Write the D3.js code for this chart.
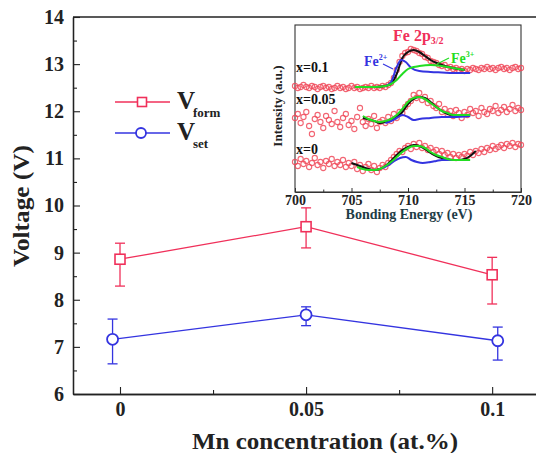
<!DOCTYPE html>
<html>
<head>
<meta charset="utf-8">
<script src="https://cdn.jsdelivr.net/npm/d3@7"></script>
<style>
  body { margin: 0; background: #fff; }
  svg { display: block; }
</style>
</head>
<body>
<script>
// main chart data
const mnConc = [0, 0.05, 0.1];
const vformX = [0, 0.05, 0.1];
const vform = [8.86, 9.55, 8.53];
const vformLo = [8.29, 9.1, 7.91];
const vformHi = [9.2, 9.95, 8.9];
const vsetX = [-0.002, 0.05, 0.1015];
const vset = [7.16, 7.68, 7.13];
const vsetLo = [6.64, 7.45, 6.72];
const vsetHi = [7.59, 7.85, 7.42];
const yTicks = [6, 7, 8, 9, 10, 11, 12, 13, 14];
const xTickLabels = ["0", "0.05", "0.1"];

// inset XPS data (a.u.), energies 700..720 step 0.25
const energies = d3.range(0, 81).map(i => 700 + i * 0.25);
const specTop = [106,104,105,107,105,104,106,105,103,105,106,104,105,103,104,106,104,105,103,104,
  106,104,105,103,104,105,104,106,104,105,104,106,105,107,109,114,122,130,136,139,
  140,143,142,141,139,138,135,134,131,130,129,127,126,127,124,125,123,124,122,123,
  121,123,122,124,123,122,124,123,125,123,124,122,124,125,123,124,122,124,125,123,124];
const specMid = [74,78,69,75,80,66,58,73,77,70,64,76,72,68,81,70,65,74,78,67,
  71,63,75,84,70,66,73,68,76,64,70,72,69,75,71,78,74,80,79,85,
  88,91,97,94,99,92,95,89,91,86,84,88,80,83,78,81,76,82,79,74,
  80,77,83,79,81,76,84,80,78,83,81,86,79,82,85,80,83,87,81,84,82];
const specBot = [30,26,33,28,31,25,29,34,27,30,24,31,28,33,26,30,27,32,25,29,
  26,30,23,27,21,25,28,22,26,20,24,27,25,29,32,35,38,41,40,44,
  46,43,48,45,49,44,46,42,44,40,42,38,41,37,39,35,38,34,37,35,
  38,36,40,37,41,39,43,40,44,42,46,43,45,47,44,48,46,49,45,48,47];

// fitted components
const topSumE = [705.3,706,707,708,708.5,709,709.5,710,710.5,711,711.5,712,713,714,715];
const topSum = [105,105,105,106,108,118,134,140,142,140,136,132,127,124,122];
const topFe2E = [708,708.5,709,709.4,709.8,710.3,711,712,713,714,715.5];
const topFe2 = [106,110,125,132,130,124,121,120,119.5,119,119];
const topFe3E = [705.3,706,707,708,708.5,709,709.5,710,710.5,711,712,713,714,715];
const topFe3 = [105,105,105,106,108,112,118,123,125,126,127,126,124,122];

const midSumE = [706,707,707.5,708,708.5,709,709.5,710,710.5,711,711.5,712,712.5,713,713.5,714,715,715.5];
const midSum = [74,71,69,70,72,75,80,88,93,95,94,90,85,81,78,77,77,77];
const midFe2E = [708,708.5,709,709.5,710,710.5,711,712,713,714,715.5];
const midFe2 = [69,71,74,77,75,72,73,74,75,75,76];
const midFe3E = [706,706.5,707,707.5,708,708.5,709,709.5,710,710.5,711,711.5,712,712.5,713,713.5,714,715,715.5];
const midFe3 = [76,73,71,70,71,73,77,83,90,94,95,93,89,85,81,79,77,77,77];

const botSumE = [705,705.5,706,706.5,707,707.5,708,708.5,709,709.5,710,710.5,711,711.5,712,712.5,713,713.5,714,714.5,715,715.5,716];
const botSum = [29,27,25,23,22,23,26,31,37,42,45,47,46,43,39,36,34,33,32,32,33,36,41];
const botFe2E = [707.8,708.3,708.8,709.3,709.8,710.3,710.8,711.3,712,712.5,713,713.5,714];
const botFe2 = [24,27,31,34,35,32,30,29,30,31,32,32,32];
const botFe3E = [705.5,706,706.5,707,707.5,708,708.5,709,709.5,710,710.5,711,711.5,712,712.5,713,713.5,714,714.5,715,715.5];
const botFe3 = [25,23,22,22,23,26,30,35,40,44,46,46,44,40,37,35,33,32,32,32,32];

const red = "#f0305a", blue = "#3434e0", green = "#22dd22";

const W = 536, H = 453;
const svg = d3.select("body").append("svg").attr("width", W).attr("height", H);

const mLeft = 73, mRight = 545, mTop = 17, mBottom = 394;
const x = d3.scaleLinear().domain([-0.01263, 0.1142]).range([mLeft, mRight]);
const y = d3.scaleLinear().domain([6, 14]).range([mBottom, mTop]);

// frame lines
svg.append("line").attr("x1", mLeft).attr("x2", mRight).attr("y1", mTop).attr("y2", mTop)
  .attr("stroke", "#222").attr("stroke-width", 1.3);

// y axis
svg.append("g").attr("transform", `translate(${mLeft},0)`)
  .call(d3.axisLeft(y).tickValues(yTicks).tickSizeInner(-7).tickSizeOuter(0).tickPadding(9).tickFormat(d3.format("d")));
svg.append("g").attr("transform", `translate(${mLeft},0)`)
  .call(d3.axisLeft(y).tickValues(d3.range(6.5, 14, 1)).tickSizeInner(-4).tickSizeOuter(0).tickFormat(""));

// x axis
svg.append("g").attr("transform", `translate(0,${mBottom})`)
  .call(d3.axisBottom(x).tickValues(mnConc).tickSizeInner(-7).tickSizeOuter(0).tickPadding(8)
    .tickFormat((d, i) => xTickLabels[i]));
svg.append("g").attr("transform", `translate(0,${mBottom})`)
  .call(d3.axisBottom(x).tickValues([0.025, 0.075]).tickSizeInner(-4).tickSizeOuter(0).tickFormat(""));

svg.selectAll(".domain").attr("stroke", "#222").attr("stroke-width", 1.3);
svg.selectAll(".tick line").attr("stroke", "#222").attr("stroke-width", 1.1);
svg.selectAll(".tick text").style("font-size", "20px").attr("fill", "#222");

// axis titles
svg.append("text").attr("transform", `translate(29,206) rotate(-90)`).attr("text-anchor", "middle")
  .style("font-size", "24px").attr("textLength", 122).attr("lengthAdjust", "spacingAndGlyphs")
  .attr("fill", "#222").text("Voltage (V)");
svg.append("text").attr("x", 325).attr("y", 449).attr("text-anchor", "middle")
  .style("font-size", "23px").attr("textLength", 266).attr("lengthAdjust", "spacingAndGlyphs")
  .attr("fill", "#222").text("Mn concentration (at.%)");

// legend
const leg = [
  { color: red, shape: "square", main: "V", sub: "form", y: 102 },
  { color: blue, shape: "circle", main: "V", sub: "set", y: 133 }
];
leg.forEach(l => {
  svg.append("line").attr("x1", 115).attr("x2", 170).attr("y1", l.y).attr("y2", l.y)
    .attr("stroke", l.color).attr("stroke-width", 1.3);
  if (l.shape === "square") {
    svg.append("rect").attr("x", 137.5).attr("y", l.y - 4.5).attr("width", 9).attr("height", 9)
      .attr("fill", "#fff").attr("stroke", l.color).attr("stroke-width", 1.6);
  } else {
    svg.append("circle").attr("cx", 141).attr("cy", l.y).attr("r", 5)
      .attr("fill", "#fff").attr("stroke", l.color).attr("stroke-width", 1.8);
  }
  svg.append("text").attr("x", 177).attr("y", l.y + 7).style("font-size", "25px").attr("fill", "#222").text(l.main);
  svg.append("text").attr("x", 193).attr("y", l.y + 15).style("font-size", "13px").attr("fill", "#222").text(l.sub);
});

// inset
const ix = d3.scaleLinear().domain([700, 720]).range([295, 521]);
const iy = d3.scaleLinear().domain([0, 167]).range([192, 25]);
const inset = svg.append("g");
inset.append("rect").attr("x", 268).attr("y", 22).attr("width", 262).attr("height", 205).attr("fill", "#fff");
inset.append("rect").attr("x", 295).attr("y", 25).attr("width", 226).attr("height", 167)
  .attr("fill", "none").attr("stroke", "#333").attr("stroke-width", 1.1);

const ixAxis = inset.append("g").attr("transform", "translate(0,192)")
  .call(d3.axisBottom(ix).tickValues([700, 705, 710, 715, 720]).tickSizeInner(-4).tickSizeOuter(0).tickPadding(3));
inset.append("g").attr("transform", "translate(0,192)")
  .call(d3.axisBottom(ix).tickValues([702.5, 707.5, 712.5, 717.5]).tickSizeInner(-2.5).tickSizeOuter(0).tickFormat(""));
inset.selectAll(".domain").attr("stroke", "#333").attr("stroke-width", 1.1);
inset.selectAll(".tick line").attr("stroke", "#333");
ixAxis.selectAll(".tick text").style("font-size", "14px").attr("fill", "#222");

inset.append("text").attr("x", 409).attr("y", 219).attr("text-anchor", "middle")
  .style("font-size", "14px").attr("fill", "#1e3c46").text("Bonding Energy (eV)");
inset.append("text").attr("transform", "translate(282,106) rotate(-90)").attr("text-anchor", "middle")
  .style("font-size", "13px").attr("fill", "#222").text("Intensity (a.u.)");

// scattered data
[specTop, specMid, specBot].forEach(spec => {
  inset.append("g").selectAll("circle").data(spec).join("circle")
    .attr("cx", (d, i) => ix(energies[i])).attr("cy", d => iy(d)).attr("r", 2.6)
    .attr("fill", "none").attr("stroke", "#f04a5a").attr("stroke-width", 1.1).attr("opacity", 0.85);
});

// fits
const fitLine = d3.line().curve(d3.curveMonotoneX).x(d => ix(d[0])).y(d => iy(d[1]));
function drawFit(es, vs, color) {
  inset.append("path").datum(vs.map((v, i) => [es[i], v]))
    .attr("fill", "none").attr("stroke", color).attr("stroke-width", 2).attr("d", fitLine);
}
drawFit(topSumE, topSum, "#111");
drawFit(topFe2E, topFe2, blue);
drawFit(topFe3E, topFe3, green);
drawFit(midSumE, midSum, "#111");
drawFit(midFe2E, midFe2, blue);
drawFit(midFe3E, midFe3, green);
drawFit(botSumE, botSum, "#111");
drawFit(botFe2E, botFe2, blue);
drawFit(botFe3E, botFe3, green);

// inset labels
[["x=0.1", 72], ["x=0.05", 104], ["x=0", 154]].forEach(([t, ty]) =>
  inset.append("text").attr("x", 296).attr("y", ty).style("font-size", "14px").attr("fill", "#111").text(t));

const fe = inset.append("text").attr("x", 393).attr("y", 41).style("font-size", "16px").attr("fill", red);
fe.append("tspan").text("Fe 2p");
fe.append("tspan").style("font-size", "10px").attr("dy", 3).text("3/2");

const fe2 = inset.append("text").attr("x", 364).attr("y", 66).style("font-size", "14px").attr("fill", blue);
fe2.append("tspan").text("Fe");
fe2.append("tspan").style("font-size", "8px").attr("dy", -6).text("2+");
inset.append("line").attr("x1", 383).attr("y1", 64).attr("x2", 393).attr("y2", 69)
  .attr("stroke", blue).attr("stroke-width", 1.2);

const fe3 = inset.append("text").attr("x", 451).attr("y", 63).style("font-size", "14px").attr("fill", green);
fe3.append("tspan").text("Fe");
fe3.append("tspan").style("font-size", "8px").attr("dy", -6).text("3+");
inset.append("line").attr("x1", 437).attr("y1", 64).attr("x2", 449).attr("y2", 58)
  .attr("stroke", green).attr("stroke-width", 1.2);

// series, drawn above the inset
function drawSeries(xs, vals, lo, hi, color, shape) {
  const g = svg.append("g");
  g.append("path").datum(vals.map((v, i) => [xs[i], v]))
    .attr("fill", "none").attr("stroke", color).attr("stroke-width", 1.3)
    .attr("d", d3.line().x(d => x(d[0])).y(d => y(d[1])));
  vals.forEach((v, i) => {
    const cx = x(xs[i]);
    g.append("line").attr("x1", cx).attr("x2", cx).attr("y1", y(lo[i])).attr("y2", y(hi[i]))
      .attr("stroke", color).attr("stroke-width", 1.3);
    [lo[i], hi[i]].forEach(e => g.append("line").attr("x1", cx - 5).attr("x2", cx + 5)
      .attr("y1", y(e)).attr("y2", y(e)).attr("stroke", color).attr("stroke-width", 1.3));
    if (shape === "square") {
      g.append("rect").attr("x", cx - 5).attr("y", y(v) - 5).attr("width", 10).attr("height", 10)
        .attr("fill", "#fff").attr("stroke", color).attr("stroke-width", 1.6);
    } else {
      g.append("circle").attr("cx", cx).attr("cy", y(v)).attr("r", 5.5)
        .attr("fill", "#fff").attr("stroke", color).attr("stroke-width", 1.8);
    }
  });
}
drawSeries(vformX, vform, vformLo, vformHi, red, "square");
drawSeries(vsetX, vset, vsetLo, vsetHi, blue, "circle");

// all text in bold serif
svg.selectAll("text").style("font-family", '"Liberation Serif", "Times New Roman", serif').style("font-weight", "bold");
</script>
</body>
</html>
